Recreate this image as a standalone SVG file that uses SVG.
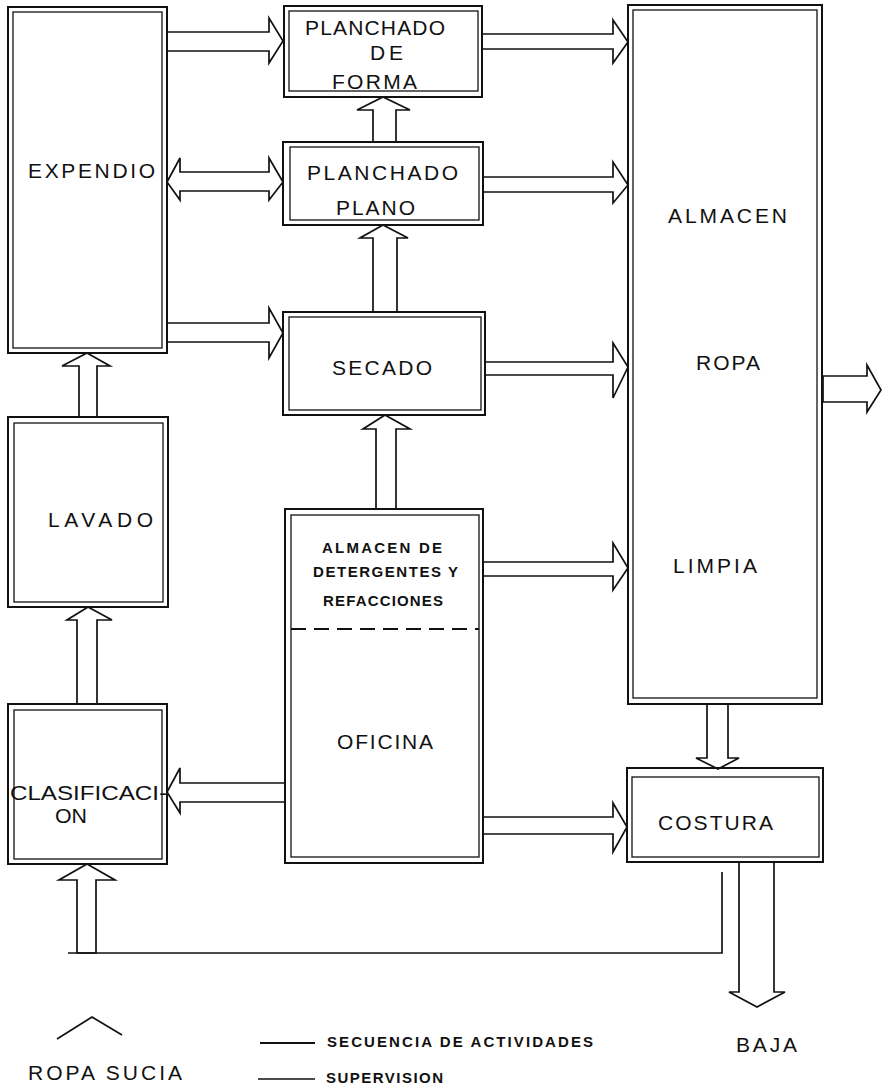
<svg xmlns="http://www.w3.org/2000/svg" width="888" height="1088" viewBox="0 0 888 1088">
<style>
.bg{fill:#fff}
.o{fill:none;stroke:#111;stroke-width:2}
.i{fill:none;stroke:#111;stroke-width:1.3}
.a{fill:#fff;stroke:#111;stroke-width:1.7;stroke-linejoin:miter}
.ln{fill:none;stroke:#111;stroke-width:1.7}
.t{font-family:"Liberation Sans",Arial,sans-serif;font-size:21px;fill:#111}
.s{font-family:"Liberation Sans",Arial,sans-serif;font-size:15px;font-weight:bold;fill:#111}
.dash{stroke:#111;stroke-width:1.8;stroke-dasharray:15 8;fill:none}
</style>
<rect class="bg" x="0" y="0" width="888" height="1088"/>

<g id="connectors">
  <!-- right arrows -->
  <polygon class="a" points="167,32 269,32 269,18 283,41 269,63 269,51 167,51"/>
  <polygon class="a" points="167,182 180,158 180,172 269,172 269,158 283,182 269,200 269,191 180,191 180,200"/>
  <polygon class="a" points="167,323 269,323 269,308 283,333 269,358 269,342 167,342"/>
  <polygon class="a" points="482,34 613,34 613,20 628,42 613,63 613,49 482,49"/>
  <polygon class="a" points="483,177 613,177 613,162 628,185 613,203 613,192 483,192"/>
  <polygon class="a" points="485,362 613,362 613,343 628,367 613,398 613,375 485,375"/>
  <polygon class="a" points="483,562 613,562 613,543 628,568 613,590 613,576 483,576"/>
  <polygon class="a" points="483,817 613,817 613,803 627,827 613,852 613,834 483,834"/>
  <polygon class="a" points="823,376 867,376 867,365 881,390 867,412 867,402 823,402"/>
  <!-- left arrow -->
  <polygon class="a" points="285,783 180,783 180,768 167,792 180,813 180,802 285,802"/>
  <!-- up arrows -->
  <polygon class="a" points="79,417 79,366 62,366 87,353 110,366 97,366 97,417"/>
  <polygon class="a" points="77,704 77,620 67,620 88,607 112,620 97,620 97,704"/>
  <polygon class="a" points="77,953 77,880 59,880 87,864 115,880 96,880 96,953"/>
  <polygon class="a" points="373,142 373,110 357,110 383,97 410,110 396,110 396,142"/>
  <polygon class="a" points="373,312 373,238 360,238 383,225 408,238 397,238 397,312"/>
  <polygon class="a" points="376,509 376,429 363,429 385,415 410,429 396,429 396,509"/>
  <!-- down arrows -->
  <polygon class="a" points="707,704 707,758 696,758 718,769 739,758 728,758 728,704"/>
  <polygon class="a" points="739,862 739,992 729,992 757,1007 785,992 774,992 774,862"/>
  <!-- return line -->
  <polyline class="ln" points="722,872 722,953 68,953"/>
</g>

<g id="expendio">
  <rect class="o" x="8" y="7" width="159" height="346"/>
  <rect class="i" x="13" y="12" width="149" height="336"/>
  <text class="t" x="28" y="178" font-size="23" textLength="127" lengthAdjust="spacing">EXPENDIO</text>
</g>
<g id="lavado">
  <rect class="o" x="8" y="417" width="160" height="190"/>
  <rect class="i" x="14" y="423" width="149" height="179"/>
  <text class="t" x="48" y="527" textLength="105" lengthAdjust="spacing">LAVADO</text>
</g>
<g id="clasificacion">
  <rect class="o" x="8" y="704" width="159" height="160"/>
  <rect class="i" x="14" y="710" width="148" height="149"/>
  <text class="t" x="10" y="800" font-size="20" textLength="157" lengthAdjust="spacingAndGlyphs">CLASIFICACI-</text>
  <text class="t" x="55" y="823" font-size="20" textLength="32" lengthAdjust="spacingAndGlyphs">ON</text>
</g>
<g id="planchado-forma">
  <rect class="o" x="284" y="6" width="198" height="91"/>
  <rect class="i" x="289" y="11" width="189" height="80"/>
  <text class="t" x="305" y="35" textLength="140" lengthAdjust="spacing">PLANCHADO</text>
  <text class="t" x="370" y="60" textLength="33" lengthAdjust="spacing">DE</text>
  <text class="t" x="332" y="89" textLength="85" lengthAdjust="spacing">FORMA</text>
</g>
<g id="planchado-plano">
  <rect class="o" x="283" y="142" width="200" height="83"/>
  <rect class="i" x="290" y="147" width="189" height="73"/>
  <text class="t" x="307" y="180" textLength="151" lengthAdjust="spacing">PLANCHADO</text>
  <text class="t" x="336" y="215" textLength="79" lengthAdjust="spacing">PLANO</text>
</g>
<g id="secado">
  <rect class="o" x="283" y="312" width="202" height="103"/>
  <rect class="i" x="289" y="317" width="192" height="93"/>
  <text class="t" x="332" y="375" textLength="100" lengthAdjust="spacing">SECADO</text>
</g>
<g id="oficina">
  <rect class="o" x="285" y="509" width="198" height="354"/>
  <rect class="i" x="291" y="515" width="188" height="342"/>
  <line class="dash" x1="291" y1="629" x2="479" y2="629"/>
  <text class="s" x="322" y="553" textLength="120" lengthAdjust="spacing">ALMACEN  DE</text>
  <text class="s" x="313" y="577" textLength="145" lengthAdjust="spacing">DETERGENTES  Y</text>
  <text class="s" x="323" y="606" textLength="120" lengthAdjust="spacing">REFACCIONES</text>
  <text class="t" x="337" y="749" textLength="96" lengthAdjust="spacing">OFICINA</text>
</g>
<g id="almacen-ropa-limpia">
  <rect class="o" x="628" y="5" width="194" height="699"/>
  <rect class="i" x="633" y="10" width="184" height="688"/>
  <text class="t" x="668" y="223" textLength="119" lengthAdjust="spacing">ALMACEN</text>
  <text class="t" x="696" y="370" textLength="64" lengthAdjust="spacing">ROPA</text>
  <text class="t" x="673" y="573" textLength="84" lengthAdjust="spacing">LIMPIA</text>
</g>
<g id="costura">
  <rect class="o" x="627" y="768" width="196" height="94"/>
  <rect class="i" x="632" y="777" width="187" height="80"/>
  <text class="t" x="658" y="830" font-size="22" textLength="115" lengthAdjust="spacing">COSTURA</text>
</g>
<g id="ropa-sucia">
  <polyline class="ln" points="57,1039 92,1017 122,1035"/>
  <text class="t" x="28" y="1080" font-size="22" textLength="154" lengthAdjust="spacing">ROPA  SUCIA</text>
</g>
<g id="baja">
  <text class="t" x="736" y="1052" textLength="61" lengthAdjust="spacing">BAJA</text>
</g>
<g id="legend">
  <line x1="260" y1="1043" x2="315" y2="1043" stroke="#111" stroke-width="2"/>
  <text class="s" x="327" y="1047" font-size="16" textLength="266" lengthAdjust="spacing">SECUENCIA  DE  ACTIVIDADES</text>
  <line x1="258" y1="1079" x2="315" y2="1079" stroke="#111" stroke-width="1.5"/>
  <text class="s" x="326" y="1083" font-size="16" textLength="117" lengthAdjust="spacing">SUPERVISION</text>
</g>
</svg>
